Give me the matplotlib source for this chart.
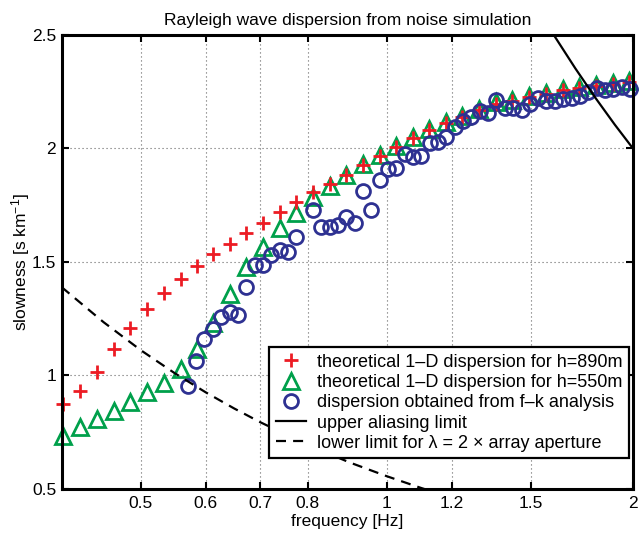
import numpy as np
import matplotlib
matplotlib.use("Agg")
import matplotlib.pyplot as plt
from matplotlib.ticker import FixedLocator, FixedFormatter, NullLocator

plt.rcParams['font.family'] = ['Liberation Sans', 'DejaVu Sans']
plt.rcParams['mathtext.default'] = 'regular'

# theoretical dispersion, h=890m (red crosses) and h=550m (green triangles)
freq_theo = [0.402, 0.421, 0.442, 0.463, 0.485, 0.508, 0.533, 0.559, 0.585, 0.612,
             0.642, 0.673, 0.705, 0.739, 0.775, 0.812, 0.851, 0.892, 0.935, 0.980,
             1.025, 1.075, 1.127, 1.180, 1.237, 1.296, 1.358, 1.424, 1.492, 1.564,
             1.640, 1.718, 1.801, 1.888, 1.979]
slow_890 = [0.873, 0.932, 1.017, 1.115, 1.211, 1.292, 1.365, 1.425, 1.482, 1.534,
            1.579, 1.628, 1.673, 1.719, 1.766, 1.810, 1.842, 1.883, 1.927, 1.968,
            2.008, 2.045, 2.081, 2.112, 2.140, 2.170, 2.198, 2.210, 2.226, 2.240,
            2.257, 2.267, 2.276, 2.283, 2.292]
slow_550 = [0.733, 0.774, 0.808, 0.845, 0.885, 0.926, 0.968, 1.027, 1.115, 1.233,
            1.361, 1.477, 1.567, 1.648, 1.717, 1.785, 1.835, 1.883, 1.930, 1.971,
            2.011, 2.049, 2.085, 2.117, 2.145, 2.175, 2.204, 2.215, 2.230, 2.244,
            2.261, 2.271, 2.280, 2.287, 2.296]

# f-k analysis result (blue circles)
freq_fk = [0.571, 0.584, 0.598, 0.612, 0.627, 0.642, 0.657, 0.673, 0.689, 0.705,
           0.722, 0.739, 0.757, 0.775, 0.812, 0.831, 0.851, 0.872, 0.892, 0.913,
           0.935, 0.957, 0.980, 1.003, 1.027, 1.051, 1.076, 1.102, 1.128, 1.155,
           1.182, 1.210, 1.239, 1.268, 1.298, 1.329, 1.361, 1.393, 1.426, 1.461,
           1.495, 1.531, 1.567, 1.604, 1.642, 1.682, 1.722, 1.763, 1.805, 1.848,
           1.891, 1.937, 1.982]
slow_fk = [0.955, 1.064, 1.159, 1.206, 1.258, 1.281, 1.267, 1.389, 1.487, 1.487,
           1.529, 1.553, 1.542, 1.610, 1.727, 1.654, 1.656, 1.663, 1.700, 1.670,
           1.814, 1.728, 1.861, 1.910, 1.916, 1.976, 1.964, 1.967, 2.024, 2.028,
           2.052, 2.094, 2.121, 2.140, 2.167, 2.155, 2.215, 2.177, 2.177, 2.170,
           2.194, 2.223, 2.208, 2.208, 2.219, 2.223, 2.233, 2.248, 2.267, 2.258,
           2.261, 2.271, 2.263]

# limits
freq_upper = [1.60, 1.70, 1.80, 1.90, 2.00]
slow_upper = [2.500, 2.353, 2.222, 2.105, 2.000]
freq_lower = [0.40, 0.45, 0.50, 0.55, 0.60, 0.65, 0.70, 0.80, 0.90, 1.00, 1.10, 1.12]
slow_lower = [1.389, 1.235, 1.111, 1.010, 0.926, 0.855, 0.794, 0.694, 0.617, 0.556, 0.505, 0.496]

xticks = [0.5, 0.6, 0.7, 0.8, 1, 1.2, 1.5, 2]
xticklabels = ['0.5', '0.6', '0.7', '0.8', '1', '1.2', '1.5', '2']
yticks = [0.5, 1, 1.5, 2, 2.5]
yticklabels = ['0.5', '1', '1.5', '2', '2.5']

red = '#ec1c24'
green = '#00a04b'
blue = '#2e3192'
fs = 12.5

fig = plt.figure(figsize=(6.39, 5.35), dpi=100)
ax = fig.add_axes([0.0966, 0.086, 0.8940, 0.8486])

ax.plot(freq_theo, slow_550, linestyle='None', marker='^', ms=11, mfc='none',
        mec=green, mew=2.0, zorder=3, clip_on=False,
        label='theoretical 1\u2013D dispersion for h=550m')
ax.plot(freq_theo, slow_890, linestyle='None', marker='+', ms=10, mec=red,
        mew=2.0, zorder=4, clip_on=False,
        label='theoretical 1\u2013D dispersion for h=890m')
ax.plot(freq_fk, slow_fk, linestyle='None', marker='o', ms=10, mfc='none',
        mec=blue, mew=2.0, zorder=5, clip_on=False,
        label='dispersion obtained from f\u2013k analysis')
ax.plot(freq_upper, slow_upper, color='k', lw=1.6, zorder=6, label='upper aliasing limit')
ax.plot(freq_lower, slow_lower, color='k', lw=1.6, dashes=(4.5, 3.2), zorder=6,
        label='lower limit for \u03bb = 2 \u00d7 array aperture')

ax.set_xscale('log')
ax.set_xlim(0.4, 2)
ax.set_ylim(0.5, 2.5)
ax.xaxis.set_major_locator(FixedLocator(xticks))
ax.xaxis.set_major_formatter(FixedFormatter(xticklabels))
ax.xaxis.set_minor_locator(NullLocator())
ax.set_yticks(yticks)
ax.set_yticklabels(yticklabels)

ax.tick_params(direction='in', length=5, width=1.5, top=True, right=True,
               labelsize=fs, pad=5)
ax.tick_params(axis='y', pad=4)
for sp in ax.spines.values():
    sp.set_linewidth(2.2)
    sp.set_zorder(7)

ax.grid(True, color='#666666', lw=0.8, dashes=(1, 2.6))

ax.set_xlabel('frequency [Hz]', fontsize=fs, labelpad=2)
ax.set_ylabel('slowness [s km$^{-1}$]', fontsize=fs, labelpad=-0.5)
ax.set_title('Rayleigh wave dispersion from noise simulation', fontsize=fs, pad=7)

h, l = ax.get_legend_handles_labels()
order = [1, 0, 2, 3, 4]
leg = ax.legend([h[i] for i in order], [l[i] for i in order],
                loc='lower right', bbox_to_anchor=(0.993, 0.068), borderaxespad=0,
                fontsize=13, numpoints=1, handlelength=1.7, handletextpad=0.6,
                labelspacing=0.18, borderpad=0.35, fancybox=False, framealpha=1,
                edgecolor='k')
leg.get_frame().set_linewidth(1.6)
leg.set_zorder(8)

fig.savefig('out.png', dpi=100)
